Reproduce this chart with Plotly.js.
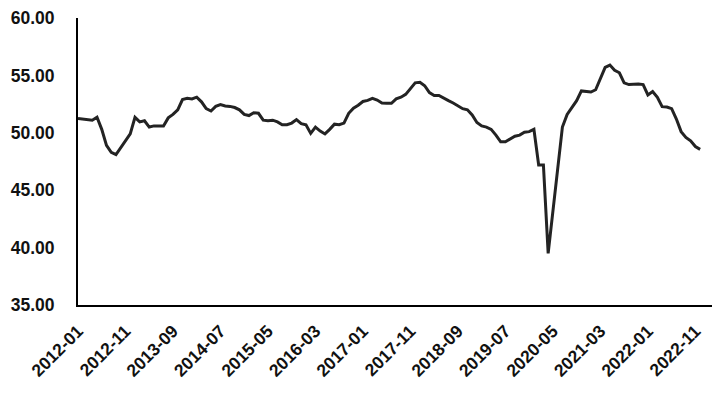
<!DOCTYPE html>
<html>
<head>
<meta charset="utf-8">
<script src="https://cdn.plot.ly/plotly-3.0.1.min.js"></script>
<style>
html,body{margin:0;padding:0;background:#fff;}
#chart{width:712px;height:393px;}
</style>
</head>
<body>
<div id="chart"></div>
<script>
const months = [
"2012-01","2012-02","2012-03","2012-04","2012-05","2012-06","2012-07","2012-08","2012-09","2012-10","2012-11","2012-12",
"2013-01","2013-02","2013-03","2013-04","2013-05","2013-06","2013-07","2013-08","2013-09","2013-10","2013-11","2013-12",
"2014-01","2014-02","2014-03","2014-04","2014-05","2014-06","2014-07","2014-08","2014-09","2014-10","2014-11","2014-12",
"2015-01","2015-02","2015-03","2015-04","2015-05","2015-06","2015-07","2015-08","2015-09","2015-10","2015-11","2015-12",
"2016-01","2016-02","2016-03","2016-04","2016-05","2016-06","2016-07","2016-08","2016-09","2016-10","2016-11","2016-12",
"2017-01","2017-02","2017-03","2017-04","2017-05","2017-06","2017-07","2017-08","2017-09","2017-10","2017-11","2017-12",
"2018-01","2018-02","2018-03","2018-04","2018-05","2018-06","2018-07","2018-08","2018-09","2018-10","2018-11","2018-12",
"2019-01","2019-02","2019-03","2019-04","2019-05","2019-06","2019-07","2019-08","2019-09","2019-10","2019-11","2019-12",
"2020-01","2020-02","2020-03","2020-04","2020-05","2020-06","2020-07","2020-08","2020-09","2020-10","2020-11","2020-12",
"2021-01","2021-02","2021-03","2021-04","2021-05","2021-06","2021-07","2021-08","2021-09","2021-10","2021-11","2021-12",
"2022-01","2022-02","2022-03","2022-04","2022-05","2022-06","2022-07","2022-08","2022-09","2022-10","2022-11","2022-12"
];

const values = [
51.25,51.2,51.2,51.1,51.35,50.3,48.9,48.3,48.1,48.7,49.3,49.9,
51.35,50.95,51.05,50.5,50.6,50.6,50.6,51.3,51.6,52.0,52.9,53.0,
52.95,53.1,52.7,52.1,51.9,52.3,52.45,52.33,52.3,52.2,52.0,51.6,
51.5,51.75,51.7,51.1,51.05,51.1,50.95,50.7,50.7,50.85,51.15,50.8,
50.7,49.95,50.5,50.15,49.9,50.3,50.75,50.7,50.85,51.7,52.15,52.4,
52.73,52.82,53.0,52.85,52.6,52.57,52.57,52.95,53.1,53.35,53.85,54.35,
54.4,54.1,53.5,53.25,53.25,53.0,52.8,52.6,52.35,52.1,52.0,51.55,
50.9,50.6,50.5,50.3,49.8,49.22,49.22,49.45,49.7,49.8,50.05,50.1,
50.3,47.2,47.2,39.5,43.1,46.8,50.5,51.6,52.2,52.8,53.65,53.6,
53.55,53.75,54.8,55.7,55.9,55.45,55.23,54.35,54.2,54.25,54.25,54.2,
53.3,53.6,53.1,52.28,52.25,52.1,51.2,50.1,49.6,49.3,48.8,48.56
];

const tickLabels = ["2012-01","2012-11","2013-09","2014-07","2015-05","2016-03","2017-01","2017-11","2018-09","2019-07","2020-05","2021-03","2022-01","2022-11"];
const yTicks = [35,40,45,50,55,60];
const yTickText = ["35.00","40.00","45.00","50.00","55.00","60.00"];

const trace = {
  x: months,
  y: values,
  type: 'scatter',
  mode: 'lines',
  line: {color: '#232323', width: 3},
  hoverinfo: 'x+y'
};

const layout = {
  width: 712,
  height: 393,
  margin: {l: 78, r: 0, t: 18, b: 88},
  paper_bgcolor: '#ffffff',
  plot_bgcolor: '#ffffff',
  showlegend: false,
  font: {family: 'Liberation Sans, Arial, sans-serif', color: '#111111'},
  xaxis: {
    type: 'category',
    range: [0, 133.5],
    tickmode: 'array',
    tickvals: tickLabels,
    ticktext: tickLabels,
    tickangle: -45,
    ticks: '',
    ticklabelstandoff: 7,
    showgrid: false,
    zeroline: false,
    showline: true,
    linecolor: '#000000',
    linewidth: 2,
    tickfont: {size: 17.5, family: 'Liberation Sans, Arial, sans-serif', color: '#111111', weight: 'bold'}
  },
  yaxis: {
    range: [35, 60],
    tickmode: 'array',
    tickvals: yTicks,
    ticktext: yTickText,
    ticks: '',
    ticklabelstandoff: 18,
    showgrid: false,
    zeroline: false,
    showline: true,
    linecolor: '#000000',
    linewidth: 2,
    tickfont: {size: 17.5, family: 'Liberation Sans, Arial, sans-serif', color: '#111111', weight: 'bold'}
  }
};

Plotly.newPlot('chart', [trace], layout, {displayModeBar: false, staticPlot: true});
</script>
</body>
</html>
